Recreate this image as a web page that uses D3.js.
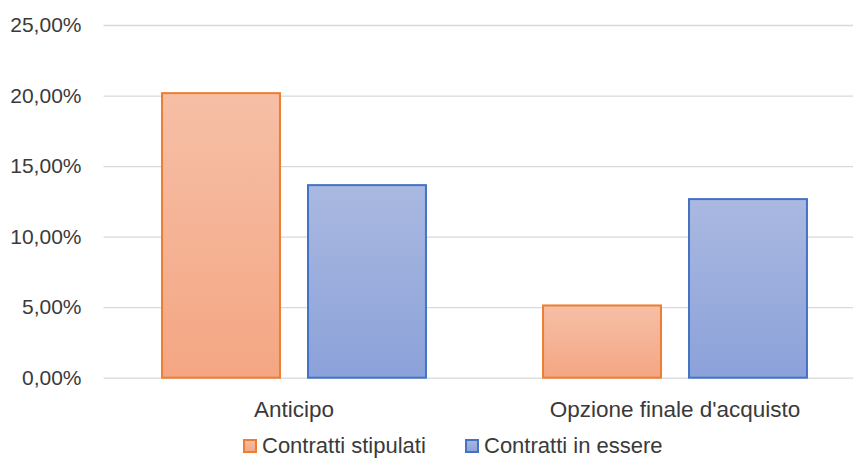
<!DOCTYPE html>
<html><head><meta charset="utf-8">
<script src="https://cdn.jsdelivr.net/npm/d3@7"></script>
<style>html,body{margin:0;padding:0;background:#fff;}svg{display:block;font-family:"Liberation Sans",Arial,sans-serif;}</style>
</head><body>
<svg id="chart" width="853" height="458"></svg>
<script>
const categories = ["Anticipo", "Opzione finale d'acquisto"];
const seriesNames = ["Contratti stipulati", "Contratti in essere"];
const stipulati = [20.17, 5.12];
const inEssere = [13.65, 12.66];
const yTicks = [0, 5, 10, 15, 20, 25];

const svg = d3.select("#chart");
const pLeft = 103.5, pRight = 865.5, pTop = 25, pBottom = 377.7;

const x = d3.scaleBand().domain(categories).range([pLeft, pRight]).paddingInner(0).paddingOuter(0);
const y = d3.scaleLinear().domain([0, 25]).range([pBottom, pTop]);
const inner = d3.scaleBand().domain(seriesNames).range([0, x.bandwidth()]).paddingOuter(0.401).paddingInner(0.192);

const defs = svg.append("defs");
const grads = [
  {id: "gO", top: "#f6bfa6", bot: "#f4a683"},
  {id: "gB", top: "#aab9e1", bot: "#8ba1d9"}
];
grads.forEach(g => {
  const lg = defs.append("linearGradient").attr("id", g.id).attr("x1", 0).attr("y1", 0).attr("x2", 0).attr("y2", 1);
  lg.append("stop").attr("offset", "0%").attr("stop-color", g.top);
  lg.append("stop").attr("offset", "100%").attr("stop-color", g.bot);
});
const strokes = ["#ed7d31", "#4472c4"];

// gridlines
const yAxis = d3.axisLeft(y).tickValues(yTicks).tickSize(-(pRight - pLeft)).tickPadding(22)
  .tickFormat(d => d3.format(".2f")(d).replace(".", ",") + "%");
const ga = svg.append("g").attr("transform", `translate(${pLeft},0)`).call(yAxis);
ga.select(".domain").remove();
ga.selectAll(".tick line").attr("stroke", "#d9d9d9").attr("stroke-width", 1.3);
ga.selectAll(".tick text").attr("fill", "#3a3a3a").attr("font-size", 21).attr("font-family", "Liberation Sans, Arial, sans-serif");

// bars
const data = [];
categories.forEach((c, i) => {
  data.push({cat: c, s: 0, v: stipulati[i]});
  data.push({cat: c, s: 1, v: inEssere[i]});
});
svg.append("g").selectAll("rect").data(data).join("rect")
  .attr("x", d => x(d.cat) + inner(seriesNames[d.s]))
  .attr("y", d => y(d.v))
  .attr("width", inner.bandwidth())
  .attr("height", d => y(0) - y(d.v))
  .attr("fill", d => d.s === 0 ? "url(#gO)" : "url(#gB)")
  .attr("stroke", d => strokes[d.s])
  .attr("stroke-width", 2);

// x axis labels
const xAxis = d3.axisBottom(x).tickSize(0).tickPadding(23);
const gx = svg.append("g").attr("transform", `translate(0,${pBottom})`).call(xAxis);
gx.select(".domain").remove();
gx.selectAll(".tick text").attr("fill", "#3a3a3a").attr("font-size", 22.5).attr("font-family", "Liberation Sans, Arial, sans-serif");

// legend
const legX = [243, 465];
const lg = svg.append("g");
seriesNames.forEach((n, i) => {
  lg.append("rect").attr("x", legX[i] + 1).attr("y", 440).attr("width", 12).attr("height", 12)
    .attr("fill", i === 0 ? "url(#gO)" : "url(#gB)").attr("stroke", strokes[i]).attr("stroke-width", 2);
  lg.append("text").attr("x", legX[i] + 19).attr("y", 452.5).attr("fill", "#3a3a3a")
    .attr("font-size", 22).text(n);
});
</script>
</body></html>
